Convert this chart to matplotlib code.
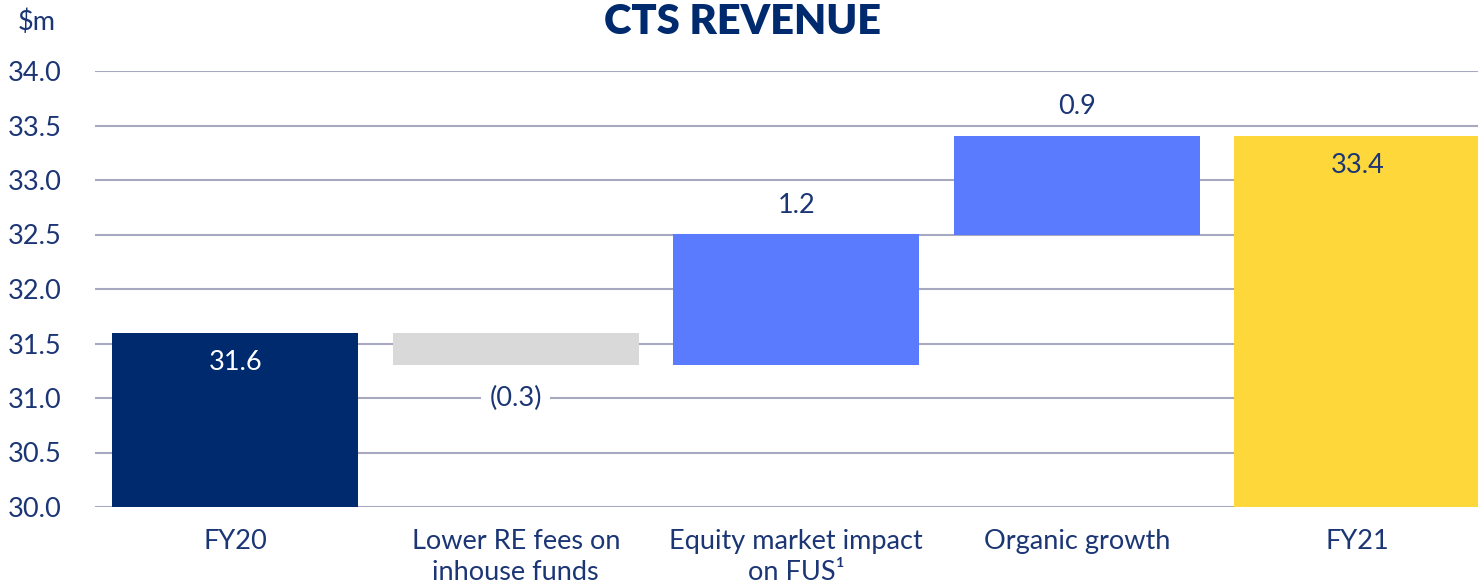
import matplotlib.pyplot as plt

categories = ["FY20", "Lower RE fees on\ninhouse funds", "Equity market impact\non FUS¹", "Organic growth", "FY21"]
values = [31.6, -0.3, 1.2, 0.9, 33.4]
kinds = ["total", "delta", "delta", "delta", "total"]
labels = ["31.6", "(0.3)", "1.2", "0.9", "33.4"]
yticks = [30.0, 30.5, 31.0, 31.5, 32.0, 32.5, 33.0, 33.5, 34.0]

navy = "#002A6E"
text_col = "#1B3575"
colors = [navy, "#D9D9D9", "#5B7BFF", "#5B7BFF", "#FED73A"]

plt.rcParams['font.family'] = ['Lato', 'DejaVu Sans']
fs = 19.5

fig = plt.figure(figsize=(14.78, 5.85), dpi=100)
ax = fig.add_axes([95 / 1478, 1 - 507 / 585, 1 - 95 / 1478, (507 - 71) / 585])

# waterfall bottoms from running total
bottoms, heights = [], []
running = 0.0
for v, k in zip(values, kinds):
    if k == "total":
        bottoms.append(30.0)
        heights.append(v - 30.0)
        running = v
    else:
        lo = min(running, running + v)
        bottoms.append(lo)
        heights.append(abs(v))
        running += v

x = list(range(len(categories)))
ax.bar(x, heights, bottom=bottoms, width=0.877, color=colors, zorder=3)

for i, (v, k) in enumerate(zip(values, kinds)):
    top = bottoms[i] + heights[i]
    if k == "total":
        c = "white" if i == 0 else text_col
        ax.text(i, top - 0.27, labels[i], ha="center", va="center", fontsize=fs, color=c, zorder=4)
    elif v > 0:
        ax.text(i, top + 0.27, labels[i], ha="center", va="center", fontsize=fs, color=text_col, zorder=4)
    else:
        ax.text(i, bottoms[i] - 0.3, labels[i], ha="center", va="center", fontsize=fs, color=text_col,
                zorder=4, bbox=dict(facecolor="white", edgecolor="none", pad=6))

ax.set_ylim(30, 34)
ax.set_xlim(-0.5, 4.43)
ax.set_yticks(yticks)
ax.set_yticklabels([f"{t:.1f}" for t in yticks], fontsize=fs, color=text_col)
ax.set_xticks(x)
ax.set_xticklabels(categories, fontsize=fs, color=text_col, linespacing=1.3, va="top")
ax.tick_params(axis="both", length=0)
ax.tick_params(axis="y", pad=24)
ax.tick_params(axis="x", pad=16)
ax.grid(axis="y", color="#A7A9C0", linewidth=1.5, zorder=0)
ax.set_axisbelow(True)
for s in ax.spines.values():
    s.set_visible(False)

fig.text(742 / 1478, 1 - 22 / 585, "CTS REVENUE", ha="center", va="center", fontsize=30,
         fontweight="heavy", color=navy)
fig.text(37 / 1478, 1 - 22 / 585, "$m", ha="center", va="center", fontsize=fs, color=text_col)

fig.savefig("out.png", dpi=100)
